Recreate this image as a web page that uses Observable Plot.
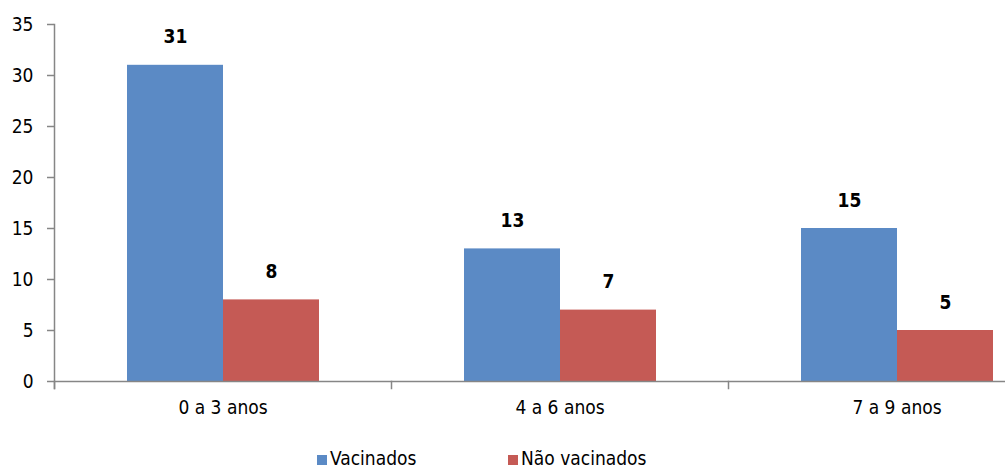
<!DOCTYPE html>
<html><head><meta charset="utf-8">
<script src="https://cdn.jsdelivr.net/npm/d3@7"></script>
<script src="https://cdn.jsdelivr.net/npm/@observablehq/plot@0.6"></script>
<style>
html,body{margin:0;padding:0;background:#fff;overflow:hidden;width:1005px;height:470px}
#wrap{position:relative;width:1065px;height:470px}
#legend{position:absolute;top:448px;left:317px;display:flex;font-family:'DejaVu Sans Condensed','DejaVu Sans',sans-serif;font-size:19px;line-height:20px;color:#000}
#legend .item{display:flex;align-items:center;width:191px;white-space:nowrap}
#legend .sw{width:10px;height:10px;margin-right:3px;margin-top:4px}
</style></head><body><div id="wrap"><div id="chart"></div><div id="legend"></div></div>
<script>
const categories = ["0 a 3 anos", "4 a 6 anos", "7 a 9 anos"];
const series = ["Vacinados", "Não vacinados"];
const vacinados = [31, 13, 15];
const naoVacinados = [8, 7, 5];
const colors = ["#5B8AC5", "#C55A55"];
const yTicks = [0, 5, 10, 15, 20, 25, 30, 35];

const data = categories.flatMap((c, i) => [
  {cat: c, serie: series[0], value: vacinados[i]},
  {cat: c, serie: series[1], value: naoVacinados[i]}
]);
const font = "'DejaVu Sans Condensed','DejaVu Sans',sans-serif";
const axisGray = "#868686";

const chart = Plot.plot({
  width: 1065, height: 440,
  marginTop: 24, marginLeft: 54, marginRight: 0, marginBottom: 52,
  style: {fontFamily: font, fontSize: "19px", color: "#000", background: "#fff"},
  fx: {domain: categories, padding: 0, label: null, axis: null},
  x: {domain: series, paddingInner: 0, paddingOuter: 0.745, axis: null},
  y: {domain: [0, 35], range: [381, 24], axis: null},
  color: {domain: series, range: colors},
  marks: [
    Plot.barY(data, {fx: "cat", x: "serie", y: "value", fill: "serie"}),
    Plot.ruleY([0], {stroke: axisGray, strokeWidth: 1.5}),
    Plot.frame({anchor: "left", insetTop: 357, stroke: axisGray, strokeWidth: 1.5}),
    Plot.frame({anchor: "left", fx: [categories[0]], stroke: axisGray, strokeWidth: 1.5}),
    Plot.axisY({ticks: yTicks, tickSize: 7, tickPadding: 14, stroke: axisGray, strokeWidth: 1.5, fill: "#000", label: null, tickFormat: d => String(d)}),
    Plot.axisFx({anchor: "bottom", tickSize: 0, tickPadding: 12, label: null, fill: "#000"}),
    Plot.text(data, {fx: "cat", x: "serie", y: "value", text: "value", dy: -28, fontWeight: "bold", fill: "#000"})
  ]
});
document.getElementById("chart").appendChild(chart);

const legend = document.getElementById("legend");
series.forEach((s, i) => {
  const item = document.createElement("div");
  item.className = "item";
  const sw = document.createElement("span");
  sw.className = "sw";
  sw.style.background = colors[i];
  const t = document.createElement("span");
  t.textContent = s;
  item.appendChild(sw); item.appendChild(t);
  legend.appendChild(item);
});
</script>
</body></html>
